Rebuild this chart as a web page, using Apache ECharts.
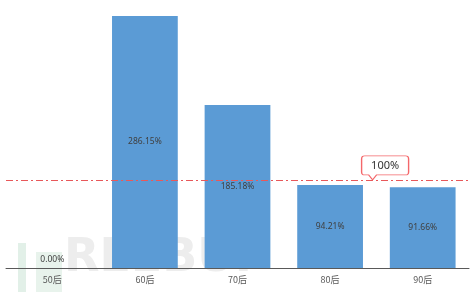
<!DOCTYPE html>
<html><head><meta charset="utf-8">
<script src="https://cdn.jsdelivr.net/npm/echarts@6/dist/echarts.min.js"></script>
<style>html,body{margin:0;padding:0;background:#fff}#c{width:476px;height:292px}</style>
</head><body><div id="c"></div>
<script>
var categories = ['50后', '60后', '70后', '80后', '90后'];
var values = [0, 286.15, 185.18, 94.21, 91.66];
var referenceValue = 100;
var referenceLabel = '100%';

var chart = echarts.init(document.getElementById('c'), null, {renderer: 'canvas'});
var data = values.map(function (v) {
  var d = {value: v};
  if (v === 0) d.label = {position: 'top', distance: 4};
  return d;
});
chart.setOption({
  animation: false,
  grid: {left: 6, right: 7, top: 0, bottom: 24, containLabel: false},
  graphic: [
    {type: 'rect', z: -10, shape: {x: 18, y: 243, width: 8, height: 49}, style: {fill: '#E2F0E8'}},
    {type: 'rect', z: -10, shape: {x: 36, y: 252, width: 26, height: 40}, style: {fill: '#E8F3EC'}},
    {type: 'text', left: 64, top: 236, z: -10,
      style: {text: 'REEBUF', font: 'bold 46px "DejaVu Sans"', fill: '#EDEDED'}}
  ],
  xAxis: {
    type: 'category', data: categories,
    axisLine: {lineStyle: {color: '#595959', width: 1}},
    axisTick: {show: false},
    axisLabel: {color: '#595959', fontSize: 9, margin: 7, fontFamily: 'Noto Sans CJK SC'}
  },
  yAxis: {
    type: 'value', min: 0, max: 304.3,
    show: false, splitLine: {show: false}
  },
  series: [{
    type: 'bar', data: data, barWidth: '71%',
    itemStyle: {color: '#5B9BD5'},
    label: {show: true, position: 'inside', color: '#404040', fontSize: 8.5,
      fontFamily: 'Noto Sans',
      formatter: function (p) { return p.value.toFixed(2) + '%'; }},
    markLine: {
      silent: true, symbol: 'none',
      lineStyle: {color: '#E8585A', type: [7, 3, 2, 3], width: 1},
      label: {show: false},
      data: [{yAxis: referenceValue}]
    },
    markPoint: {
      silent: true,
      data: [{
        coord: ['80后', referenceValue],
        symbol: 'path://M3,0 H44 Q47,0 47,3 V16 Q47,19 44,19 H15 L11,24 L7,19 H3 Q0,19 0,16 V3 Q0,0 3,0 Z',
        symbolSize: [47, 24],
        symbolOffset: [55, -12],
        symbolKeepAspect: false,
        itemStyle: {color: '#fff', borderColor: '#F4676A', borderWidth: 1},
        label: {show: true, position: 'inside', offset: [0, -2.5], formatter: referenceLabel,
          color: '#333', fontSize: 11, fontFamily: 'Noto Sans'}
      }]
    }
  }]
});
</script></body></html>
